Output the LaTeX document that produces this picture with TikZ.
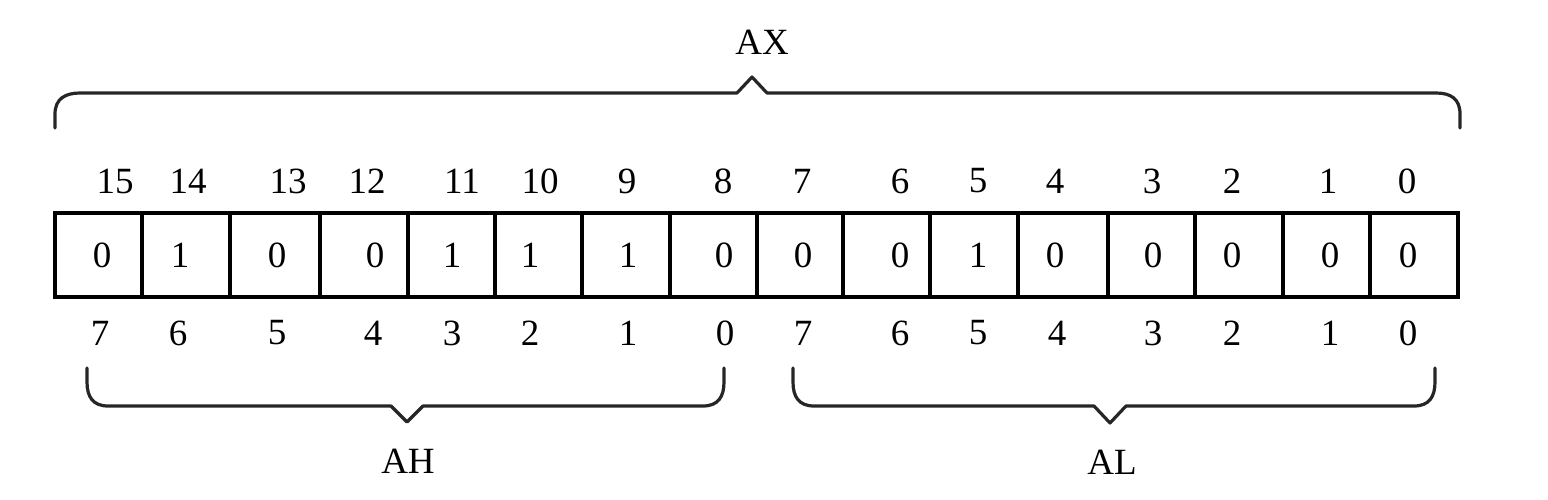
\documentclass[tikz,border=0pt]{standalone}
\usepackage{fontspec}
\setmainfont{Liberation Serif}
\usetikzlibrary{calc}
\begin{document}
\begin{tikzpicture}[x=1pt,y=-1pt,
  cellbox/.style={draw=black, line width=4pt, inner sep=0pt, minimum height=84pt},
  numtext/.style={inner sep=0pt, font=\fontsize{37}{40}\selectfont},
  brace/.style={draw=black!85, line width=3.2pt, line join=round, line cap=round}]
\useasboundingbox (0,0) rectangle (1548,500);
\foreach \l/\r/\v/\vx/\t/\tx/\bn/\bx [count=\k] in {
  55/142/0/102/15/115/7/100,
  142/230/1/180/14/188/6/178,
  230/320/0/277/13/288/5/277,
  320/408/0/375/12/367/4/373,
  408/495/1/452/11/462/3/452,
  495/582/1/530/10/540/2/530,
  582/670/1/628/9/627/1/628,
  670/757/0/724/8/723/0/725,
  757/843/0/803/7/802/7/803,
  843/930/0/900/6/900/6/900,
  930/1018/1/978/5/978/5/978,
  1018/1108/0/1055/4/1055/4/1057,
  1108/1195/0/1153/3/1152/3/1153,
  1195/1283/0/1232/2/1232/2/1232,
  1283/1370/0/1330/1/1328/1/1330,
  1370/1458/0/1408/0/1407/0/1408}{
  \pgfmathsetmacro{\w}{\r-\l}
  \pgfmathsetmacro{\cx}{(\l+\r)/2}
  \node[cellbox, minimum width=\w pt] (c\k) at (\cx,254.5) {};
  \node[numtext] (v\k) at (\vx,255) {\v};
  \node[numtext] (t\k) at (\tx,181) {\t};
  \node[numtext] (b\k) at (\bx,333) {\bn};
}
% top brace AX
\coordinate (axl) at (55,128);
\coordinate (axr) at (1460,128);
\coordinate (axtip) at (752,77);
\node[numtext] (AX) at (762,42) {AX};
\draw[brace] (axl) -- ++(0,-14) .. controls +(0,-15) and +(-15,0) .. (80,93)
  -- ($(axtip)+(-15,16)$) -- (axtip) -- ($(axtip)+(15,16)$)
  -- (1436,93) .. controls +(15,0) and +(0,-15) .. ($(axr)+(0,-14)$) -- (axr);
% AH brace
\coordinate (ahl) at (87,368);
\coordinate (ahr) at (724,368);
\coordinate (ahtip) at (407,422);
\node[numtext] (AH) at (408,461) {AH};
\draw[brace] (ahl) -- ++(0,14) .. controls +(0,15) and +(-15,0) .. (108,406)
  -- ($(ahtip)+(-16,-16)$) -- (ahtip) -- ($(ahtip)+(16,-16)$)
  -- (703,406) .. controls +(15,0) and +(0,15) .. ($(ahr)+(0,14)$) -- (ahr);
% AL brace
\coordinate (all) at (793,368);
\coordinate (alr) at (1435,368);
\coordinate (altip) at (1110,423);
\node[numtext] (AL) at (1112,462) {AL};
\draw[brace] (all) -- ++(0,14) .. controls +(0,15) and +(-15,0) .. (814,406)
  -- ($(altip)+(-16,-17)$) -- (altip) -- ($(altip)+(16,-17)$)
  -- (1414,406) .. controls +(15,0) and +(0,15) .. ($(alr)+(0,14)$) -- (alr);
\end{tikzpicture}
\end{document}
